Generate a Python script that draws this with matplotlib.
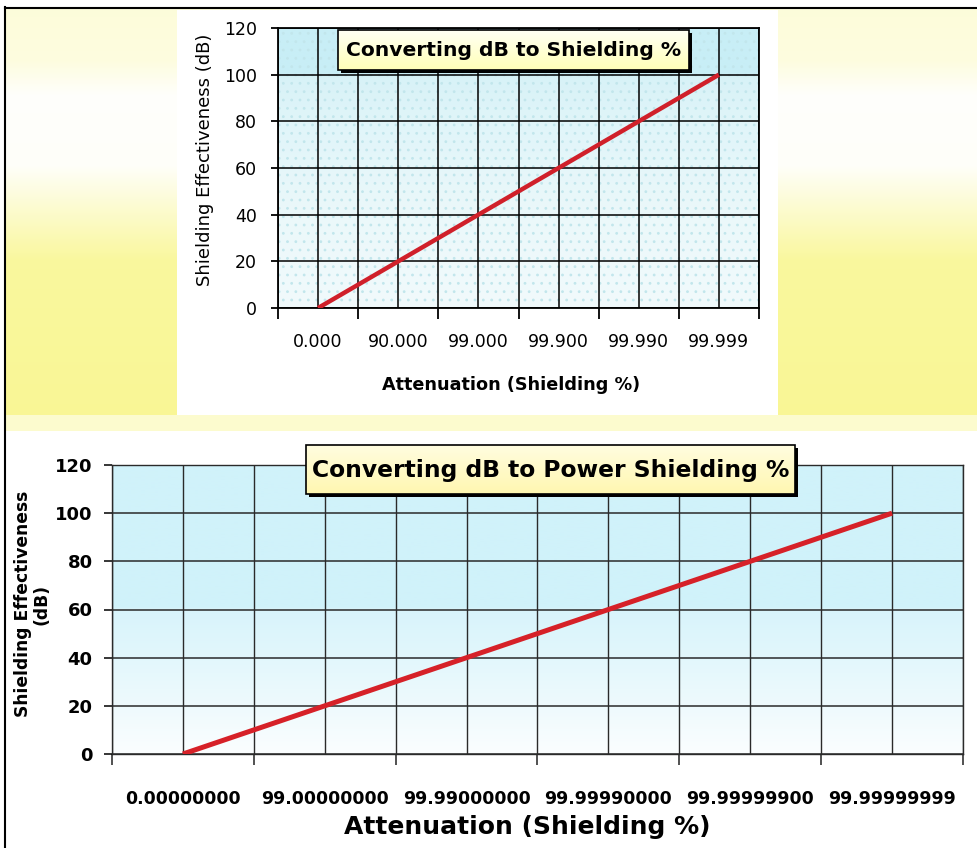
import numpy as np
import matplotlib
matplotlib.use("Agg")
import matplotlib.pyplot as plt
from matplotlib.patches import Rectangle

plt.rcParams["hatch.linewidth"] = 0.8

# ---------------- data ----------------
top_labels = ["0.000", "90.000", "99.000", "99.900", "99.990", "99.999"]
top_db = [0, 20, 40, 60, 80, 100]
bottom_labels = ["0.00000000", "99.00000000", "99.99000000",
                 "99.99990000", "99.99999900", "99.99999999"]
bottom_db = [0, 20, 40, 60, 80, 100]
y_ticks = [0, 20, 40, 60, 80, 100, 120]

top_title = "Converting dB to Shielding %"
bottom_title = "Converting dB to Power Shielding %"
x_title = "Attenuation (Shielding %)"
top_ytitle = "Shielding Effectiveness (dB)"
bottom_ytitle = "Shielding Effectiveness\n(dB)"

W, H = 977, 848
fig = plt.figure(figsize=(W / 100, H / 100), dpi=100)
fig.patch.set_facecolor("white")


def fx(px):
    return px / W


def fy(py):
    return 1 - py / H


# ---------------- background (pixel coords) ----------------
bg = fig.add_axes([0, 0, 1, 1], zorder=0)
bg.set_xlim(0, W)
bg.set_ylim(H, 0)
bg.axis("off")
yy = np.arange(H)
f = np.interp(yy, [0, 7, 8, 60, 95, 165, 260, 414, 415, 430, 431],
              [0, 0, 0.32, 0.28, 0.03, 0.05, 0.85, 0.92, 0.42, 0.42, 0])
yellow = np.array([0.975, 0.965, 0.55])
img = 1 - f[:, None, None] * (1 - yellow)[None, None, :]
img = np.repeat(img, W, axis=1)
img[10:415, 177:778, :] = 1.0
img[:, :5, :] = 1.0
bg.imshow(img, extent=[0, W, H, 0], aspect="auto", interpolation="nearest")
bg.set_xlim(0, W)
bg.set_ylim(H, 0)
bg.plot([4.5, 4.5], [7, H], color="black", lw=1.5)
bg.plot([4.5, 976], [7.5, 7.5], color="black", lw=1.5)


def gradient_bg(ax, stops, colors):
    yv = np.linspace(0, 120, 240)
    cols = np.array([plt.matplotlib.colors.to_rgb(c) for c in colors])
    g = np.stack([np.interp(yv, stops, cols[:, i]) for i in range(3)], axis=-1)
    g = g[:, None, :]
    ax.imshow(g, extent=[-0.5, 5.5, 0, 120], origin="lower", aspect="auto",
              zorder=0, interpolation="bilinear")


# ---------------- top chart ----------------
ax1 = fig.add_axes([fx(278), fy(308), fx(759) - fx(278), fy(28) - fy(308)], zorder=2)
x1 = np.arange(len(top_labels))
gradient_bg(ax1, [0, 40, 80, 99, 101, 120],
            ["#f1fafc", "#ebf8fa", "#e0f5f9", "#d8f2f7", "#c8eef6", "#c8eef6"])
ax1.add_patch(Rectangle((0, 0), 1, 1, transform=ax1.transAxes, facecolor="none",
                        edgecolor="#c2e6ec", hatch="..", lw=0, zorder=0.2))
ax1.plot(x1, top_db, color="#d0202a", lw=3.2, zorder=3, solid_capstyle="butt")
ax1.set_xlim(-0.5, 5.5)
ax1.set_ylim(0, 120)
ax1.set_xticks(np.arange(-0.5, 6, 1))
ax1.set_xticklabels([])
ax1.set_xticks(x1, minor=True)
ax1.set_xticklabels(top_labels, minor=True)
ax1.set_yticks(y_ticks)
ax1.tick_params(axis="x", which="major", length=8, width=1.3, direction="out", color="black")
ax1.tick_params(axis="x", which="minor", length=0, pad=18, labelsize=12.5)
ax1.tick_params(axis="y", length=5, width=1.3, pad=10, labelsize=12.5)
ax1.grid(True, which="both", axis="x", color="black", lw=1.1)
ax1.grid(True, which="major", axis="y", color="black", lw=1.1)
for s in ax1.spines.values():
    s.set_color("black")
    s.set_linewidth(1.3)
fig.text(fx(511), fy(385), x_title, ha="center", va="center",
         fontsize=12.7, fontweight="bold")
fig.text(fx(205), fy(160), top_ytitle, ha="center", va="center",
         rotation=90, fontsize=13)

# ---------------- bottom chart ----------------
ax2 = fig.add_axes([fx(112), fy(754), fx(963) - fx(112), fy(465) - fy(754)], zorder=2)
x2 = np.arange(len(bottom_labels))
gradient_bg(ax2, [0, 20, 40, 60, 61, 120],
            ["#fbfeff", "#eefafd", "#e2f7fc", "#d8f4fb", "#d0f2fa", "#d0f2fa"])
ax2.plot(x2, bottom_db, color="#d62128", lw=3.6, zorder=3, solid_capstyle="butt")
ax2.set_xlim(-0.5, 5.5)
ax2.set_ylim(0, 120)
ax2.set_xticks(np.arange(-0.5, 6, 1))
ax2.set_xticklabels([])
ax2.set_xticks(x2, minor=True)
ax2.set_xticklabels(bottom_labels, minor=True, fontweight="bold")
ax2.set_yticks(y_ticks)
ax2.set_yticklabels([str(v) for v in y_ticks], fontweight="bold")
ax2.tick_params(axis="x", which="major", length=8, width=1.1, direction="out", color="#222222")
ax2.tick_params(axis="x", which="minor", length=0, pad=26, labelsize=12.5)
ax2.tick_params(axis="y", length=6, width=1.1, pad=8, labelsize=13)
ax2.grid(True, which="both", axis="x", color="#2a2a2a", lw=1.0)
ax2.grid(True, which="major", axis="y", color="#2a2a2a", lw=1.1)
for s in ax2.spines.values():
    s.set_color("#2a2a2a")
    s.set_linewidth(1.0)
fig.text(fx(527), fy(827), x_title, ha="center", va="center",
         fontsize=18, fontweight="bold")
fig.text(fx(32), fy(604), bottom_ytitle, ha="center", va="center",
         rotation=90, fontsize=12.3, fontweight="bold", linespacing=1.0)

# ---------------- title boxes (pixel coords overlay) ----------------
ov = fig.add_axes([0, 0, 1, 1], zorder=10)
ov.patch.set_alpha(0)
ov.axis("off")


def title_box(x0, y0, w, h, text, size, top_col, bot_col):
    ov.add_patch(Rectangle((x0 + 3, y0 + 3), w, h, facecolor="black", edgecolor="none"))
    c0 = np.array(plt.matplotlib.colors.to_rgb(top_col))
    c1 = np.array(plt.matplotlib.colors.to_rgb(bot_col))
    t = np.linspace(0, 1, 50)[:, None]
    g = (c0[None, :] * (1 - t) + c1[None, :] * t)[:, None, :]
    ov.imshow(g, extent=[x0, x0 + w, y0 + h, y0], origin="upper", aspect="auto",
              interpolation="bilinear", zorder=1)
    ov.add_patch(Rectangle((x0, y0), w, h, facecolor="none", edgecolor="black",
                           lw=1.2, zorder=2))
    ov.text(x0 + w / 2, y0 + h / 2 + 1, text, ha="center", va="center",
            fontsize=size, fontweight="bold", zorder=3)


title_box(338, 30, 351, 40, top_title, 14.6, "#fffff4", "#ffffb8")
title_box(306, 445, 489, 49, bottom_title, 16.8, "#fffde0", "#fff7b0")
ov.set_xlim(0, W)
ov.set_ylim(H, 0)

fig.savefig("out.png", dpi=100)
